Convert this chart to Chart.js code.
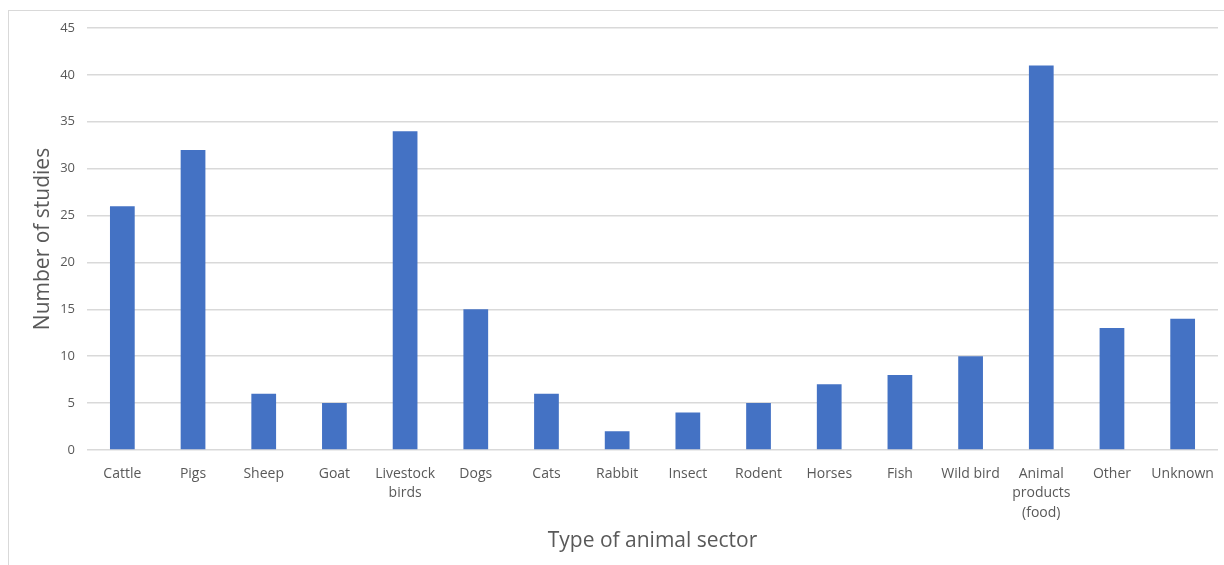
<!DOCTYPE html>
<html>
<head>
<meta charset="utf-8">
<title>Number of studies by type of animal sector</title>
<script src="https://cdn.jsdelivr.net/npm/chart.js@4/dist/chart.umd.min.js"></script>
<style>
  html, body { margin: 0; padding: 0; background: #ffffff; }
  #wrap { position: relative; width: 1224px; height: 565px; }
  #frame {
    position: absolute; left: 8px; top: 10px; right: 0; bottom: 0;
    border-top: 1px solid #d9d9d9; border-left: 1px solid #d9d9d9;
    pointer-events: none;
  }
  canvas { position: absolute; left: 0; top: 0; }
</style>
</head>
<body>
<div id="wrap">
  <div id="frame"></div>
  <canvas id="sectorChart" width="1224" height="565"></canvas>
</div>
<script>
// Categorias (rótulos com quebra de linha onde necessário)
const sectors = [
  'Cattle', 'Pigs', 'Sheep', 'Goat', ['Livestock', 'birds'], 'Dogs', 'Cats',
  'Rabbit', 'Insect', 'Rodent', 'Horses', 'Fish', 'Wild bird',
  ['Animal', 'products', '(food)'], 'Other', 'Unknown'
];

// Número de estudos por setor
const studies = [26, 32, 6, 5, 34, 15, 6, 2, 4, 5, 7, 8, 10, 41, 13, 14];

// Eixo Y
const yMax = 45;
const yStep = 5;

const fontFamily = "'Open Sans', 'Segoe UI', sans-serif";
const textColor = '#595959';
const gridColor = '#d9d9d9';

Chart.defaults.font.family = fontFamily;
Chart.defaults.color = textColor;

const ctx = document.getElementById('sectorChart').getContext('2d');
new Chart(ctx, {
  type: 'bar',
  data: {
    labels: sectors,
    datasets: [{
      label: 'Number of studies',
      data: studies,
      backgroundColor: '#4472c4',
      borderWidth: 0,
      barPercentage: 0.35,
      categoryPercentage: 1
    }]
  },
  options: {
    responsive: false,
    animation: false,
    layout: {
      padding: { left: 10, right: 6, top: 28, bottom: 0 }
    },
    plugins: {
      legend: { display: false },
      tooltip: { enabled: false }
    },
    scales: {
      x: {
        grid: { display: false },
        border: { display: false },
        ticks: {
          font: { size: 14, lineHeight: 1.4 },
          color: textColor,
          maxRotation: 0,
          autoSkip: false,
          padding: 6
        },
        title: {
          display: true,
          text: 'Type of animal sector',
          font: { size: 21 },
          color: textColor,
          padding: { top: 0, bottom: 11 }
        },
        afterFit: function(scale) { scale.height = 115; }
      },
      y: {
        min: 0,
        max: yMax,
        grid: {
          color: gridColor,
          lineWidth: 1.5,
          drawTicks: false
        },
        border: { display: false },
        ticks: {
          stepSize: yStep,
          font: { size: 13 },
          color: textColor,
          padding: 12
        },
        title: {
          display: true,
          text: 'Number of studies',
          font: { size: 21 },
          color: textColor,
          padding: { top: 20, bottom: 0 }
        },
        afterFit: function(scale) { scale.width = 77; }
      }
    }
  }
});
</script>
</body>
</html>
